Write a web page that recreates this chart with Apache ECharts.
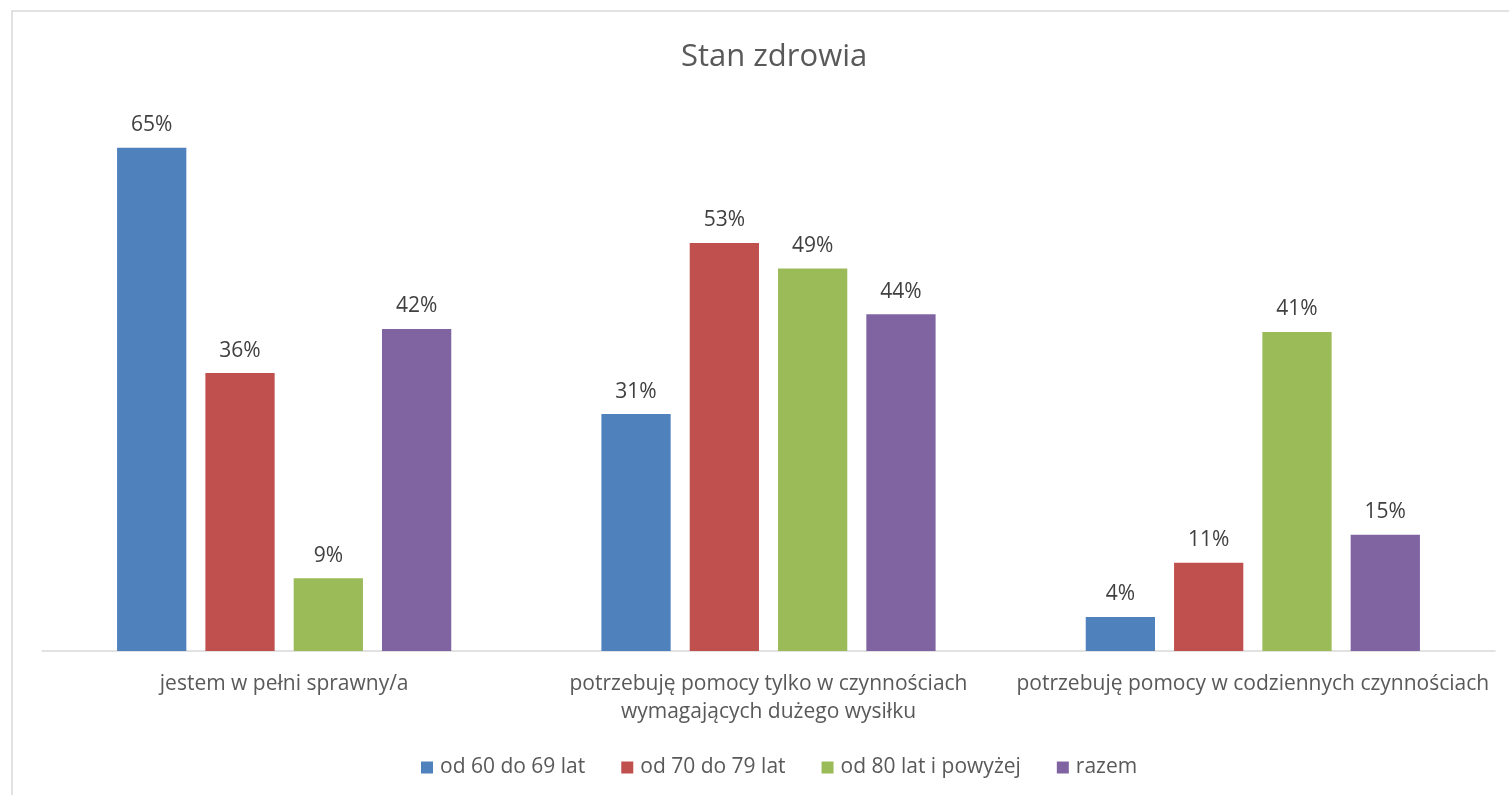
<!DOCTYPE html>
<html><head><meta charset="utf-8">
<script src="https://cdn.jsdelivr.net/npm/echarts@6/dist/echarts.min.js"></script>
<style>html,body{margin:0;padding:0;background:#fff}#c{width:1509px;height:795px}</style>
</head><body><div id="c"></div>
<script>
const categories = ['jestem w pełni sprawny/a', 'potrzebuję pomocy tylko w czynnościach\nwymagających dużego wysiłku', 'potrzebuję pomocy w codziennych czynnościach'];
const seriesNames = ['od 60 do 69 lat', 'od 70 do 79 lat', 'od 80 lat i powyżej', 'razem'];
const s60 = [65, 30.6, 4.4];
const s70 = [35.9, 52.7, 11.4];
const s80 = [9.4, 49.4, 41.2];
const sAll = [41.6, 43.5, 15.0];
const colors = ['#4F81BD', '#C0504D', '#9BBB59', '#8064A2'];
const values = [s60, s70, s80, sAll];
const font = 'Open Sans';
const chart = echarts.init(document.getElementById('c'));
chart.setOption({
  animation: false,
  title: { text: 'Stan zdrowia', left: 676, top: 37, textStyle: { fontFamily: font, fontSize: 31, fontWeight: 'normal', color: '#595959' } },
  graphic: [{ type: 'rect', shape: { x: 12, y: 11, width: 1600, height: 900 }, style: { fill: 'none', stroke: '#d9d9d9', lineWidth: 1.5 }, silent: true }],
  legend: { top: 752, left: 416, itemWidth: 12, itemHeight: 12, itemGap: 36, icon: 'rect',
    textStyle: { fontFamily: font, fontSize: 21, color: '#595959', padding: [0, 0, 0, 2] }, data: seriesNames },
  grid: { left: 42, right: 14, top: 109, bottom: 144 },
  xAxis: { type: 'category', data: categories,
    axisLine: { lineStyle: { color: '#d9d9d9', width: 1.5 } }, axisTick: { show: false },
    axisLabel: { fontFamily: font, fontSize: 21, color: '#595959', margin: 19, lineHeight: 28, interval: 0 } },
  yAxis: { type: 'value', min: 0, max: 70, show: false, splitLine: { show: false } },
  series: values.map((v, i) => ({
    name: seriesNames[i], type: 'bar', data: v, barGap: '27.5%', barCategoryGap: '31%',
    itemStyle: { color: colors[i] },
    label: { show: true, position: 'top', distance: 12, formatter: p => Math.round(p.value) + '%', fontFamily: font, fontSize: 21, color: '#404040' }
  }))
});
</script></body></html>
